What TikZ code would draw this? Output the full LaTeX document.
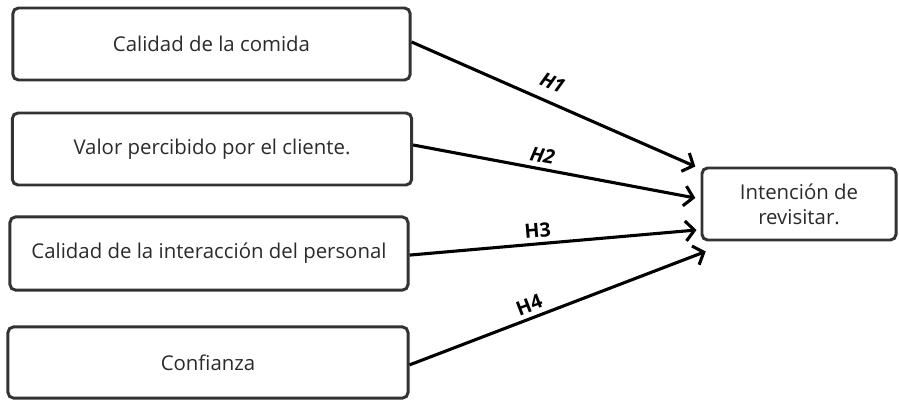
\documentclass[tikz,border=0pt]{standalone}
\usepackage{fontspec}
\setmainfont{Open Sans}
\usetikzlibrary{arrows.meta, positioning, calc}
\definecolor{cframe}{HTML}{333333}
\definecolor{ctext}{HTML}{2B2B2B}
\tikzset{
  every picture/.style={font=\fontsize{14.5}{18}\selectfont, line width=1.2pt},
  box/.style={draw=cframe, fill=white, rounded corners=4pt, align=center, line width=2.1pt, text=ctext, minimum height=#1},
  box/.default=1.8cm,
  arrow/.style={-{Straight Barb[length=2.2mm, width=5mm, line width=2.2pt]}, draw=black, line width=2.2pt},
  hyp/.style={font=\fontsize{14}{16}\selectfont\bfseries, text=black, sloped, above},
}

\begin{document}
\begin{tikzpicture}[x=0.025cm, y=-0.025cm]
  \useasboundingbox (0,0) rectangle (899,400);
  % ---- predictors (left) ----
  \node[box, minimum width=9.93cm] (food) at (211.5,44) {Calidad de la comida};
  \node[box, minimum width=9.98cm] (value) at (212,149) {Valor percibido por el cliente.};
  \node[box, minimum width=9.95cm, minimum height=1.83cm] (staff) at (209,253.5) {Calidad de la interacción del personal};
  \node[box, minimum width=10cm, minimum height=1.78cm] (trust) at (208,362.5) {Confianza};
  % ---- outcome (right) ----
  \node[box, minimum width=4.85cm] (revisit) at (799,204) {Intención de\\revisitar.};
  % arrow tips
  \coordinate (t1) at ([xshift=-0.13cm]revisit.north west);
  \coordinate (t2) at ([xshift=-0.13cm, yshift=0.15cm]revisit.west);
  \coordinate (t3) at ([xshift=-0.1cm, yshift=-0.65cm]revisit.west);
  \coordinate (t4) at ([xshift=0.13cm, yshift=-0.25cm]revisit.south west);
  \draw[arrow] ([yshift=0.05cm]food.east) -- node[hyp, pos=0.47, yshift=0.15cm] {\itshape H1} (t1);
  \draw[arrow] ([yshift=0.1cm]value.east) -- node[hyp, pos=0.45] {\itshape H2} (t2);
  \draw[arrow] ([yshift=-0.04cm]staff.east) -- node[hyp, pos=0.45] {H3} (t3);
  \draw[arrow] ([yshift=-0.06cm]trust.east) -- node[hyp, pos=0.42] {H4} (t4);
\end{tikzpicture}
\end{document}
